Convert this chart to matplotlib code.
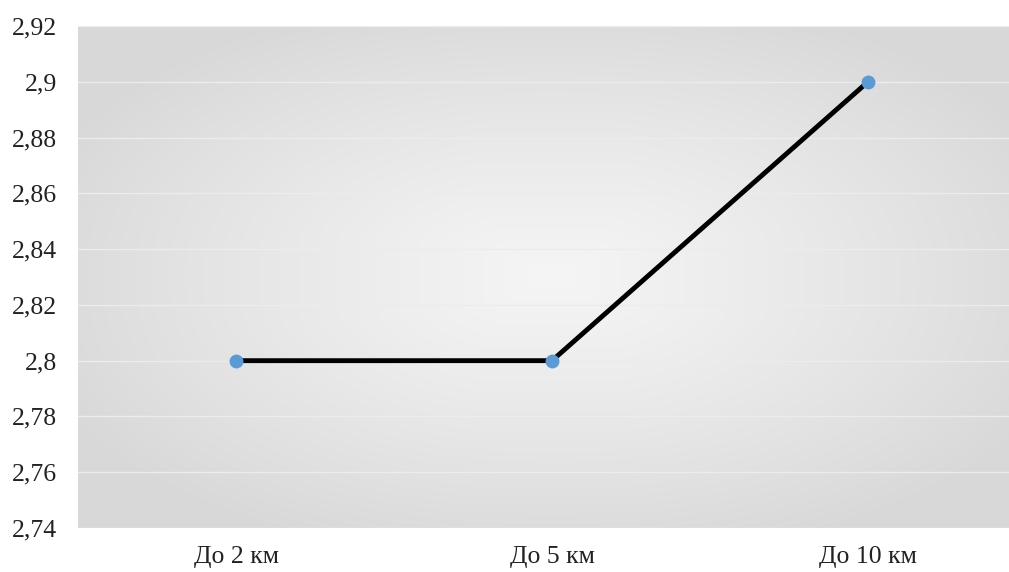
import numpy as np
import matplotlib
matplotlib.use("Agg")
import matplotlib.pyplot as plt
from matplotlib.ticker import FuncFormatter, MultipleLocator

categories = ["До 2 км", "До 5 км", "До 10 км"]
values = [2.8, 2.8, 2.9]
y_min, y_max, y_step = 2.74, 2.92, 0.02

plt.rcParams['font.family'] = ['Liberation Serif', 'DejaVu Serif']

fig = plt.figure(figsize=(10.09, 5.72), dpi=100)
W, H = 1009, 572
left, right, top, bottom = 78, 1026, 26, 528
ax = fig.add_axes([left / W, (H - bottom) / H, (right - left) / W, (bottom - top) / H])

# Gradient background (light center, gray edges)
n = 400
u = np.linspace(-1, 1, n)
U, V = np.meshgrid(u, u)
d = np.clip(np.sqrt((np.abs(U) ** 2.2 + np.abs(V) ** 2.2) / 1.3), 0, 1)
d = np.maximum(d, np.maximum(np.abs(U), np.abs(V)) * 0.85)
c0, c1 = 0.96, 0.85
img = c0 + (c1 - c0) * np.clip(d, 0, 1) ** 1.1
ax.imshow(np.dstack([img, img, img]), extent=[0, 1, 0, 1], transform=ax.transAxes,
          aspect='auto', zorder=0, interpolation='bilinear')

x = np.arange(len(categories))
ax.set_xlim(-0.5, len(categories) - 0.5)
ax.set_ylim(y_min, y_max)
ax.yaxis.set_major_locator(MultipleLocator(y_step))
ax.yaxis.set_major_formatter(FuncFormatter(lambda v, p: f"{round(v, 2):g}".replace('.', ',')))
ax.grid(axis='y', color='#ececec', linewidth=1.0, zorder=1)
ax.set_axisbelow(True)

ax.plot(x, values, color='black', linewidth=3.5, zorder=3, solid_capstyle='butt')
ax.plot(x, values, 'o', color='#5B9BD5', markersize=10, markeredgewidth=0, zorder=4)

ax.set_xticks(x)
ax.set_xticklabels(categories)
ax.tick_params(axis='both', length=0, labelsize=18.5, colors='#222222')
ax.tick_params(axis='y', pad=15)
ax.tick_params(axis='x', pad=13)
for s in ax.spines.values():
    s.set_visible(False)

fig.savefig("out.png", dpi=100)
